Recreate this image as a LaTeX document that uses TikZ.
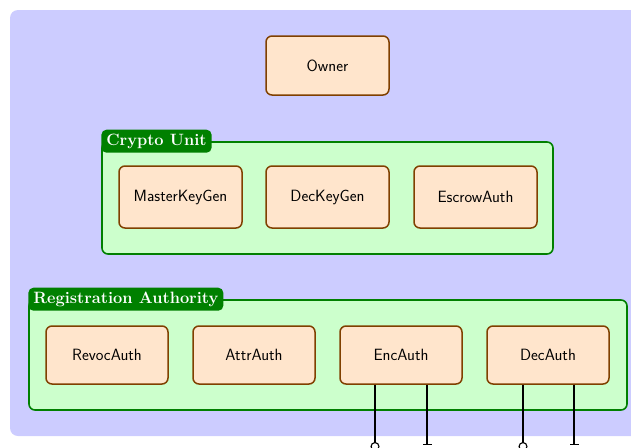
\documentclass[tikz,border=0pt]{standalone}
\usetikzlibrary{arrows.meta}
\definecolor{panelblue}{RGB}{204,204,255}
\definecolor{groupfill}{RGB}{204,255,204}
\definecolor{groupline}{RGB}{0,128,0}
\definecolor{boxfill}{RGB}{255,229,204}
\definecolor{boxline}{RGB}{128,64,0}
\tikzset{
  comp/.style={draw=boxline, fill=boxfill, line width=1.5pt, rounded corners=6pt,
    minimum width=122pt, minimum height=58pt, inner sep=0pt,
    font=\fontsize{16.3}{19}\selectfont\sffamily},
  grp/.style={draw=groupline, fill=groupfill, line width=1.6pt, rounded corners=6pt,
    inner sep=0pt},
  tab/.style={fill=groupline, text=white, rounded corners=5pt, anchor=west,
    inner xsep=5pt, inner ysep=0pt, minimum height=23pt,
    font=\fontsize{16.4}{19}\selectfont\bfseries},
  wire/.style={line width=1.1pt, draw=black},
  lolli/.style={wire, -{Circle[open, length=9pt, line width=1.1pt]}},
  barend/.style={wire, -{Bar[width=9pt, line width=1.1pt]}}
}
\begin{document}
\begin{tikzpicture}[x=1pt, y=-1pt]
  \useasboundingbox (0,0) rectangle (631,447);
  \clip (0,0) rectangle (631,447);
  % background panel
  \fill[panelblue, rounded corners=8pt] (10,10) rectangle (660,436);

  % owner
  \node[comp, minimum width=123pt, minimum height=59pt] (owner) at (327.5,65.5) {Owner};

  % crypto unit group
  \node[grp, minimum width=451pt, minimum height=112pt] (crypto) at (327.5,198) {};
  \node[tab] (cryptotab) at (crypto.north west) {Crypto Unit};
  \node[comp, minimum width=123pt, minimum height=62pt] (mkg) at (180.5,197) {MasterKeyGen};
  \node[comp, minimum width=123pt, minimum height=62pt] (dkg) at (327.5,197) {DecKeyGen};
  \node[comp, minimum width=123pt, minimum height=62pt] (esc) at (475.5,197) {EscrowAuth};

  % registration authority group
  \node[grp, minimum width=598pt, minimum height=110pt] (reg) at (328,355) {};
  \node[tab] (regtab) at (reg.north west) {Registration Authority};
  \node[comp] (revoc) at (107,355) {RevocAuth};
  \node[comp] (attr) at (254,355) {AttrAuth};
  \node[comp] (enc) at (401,355) {EncAuth};
  \node[comp] (dec) at (548,355) {DecAuth};

  % outgoing interface wires
  \coordinate (encA) at (375,451);
  \coordinate (encB) at (427,445);
  \coordinate (decA) at (523,451);
  \coordinate (decB) at (574,445);
  \draw[lolli] (enc.south -| encA) -- (encA);
  \draw[barend] (enc.south -| encB) -- (encB);
  \draw[lolli] (dec.south -| decA) -- (decA);
  \draw[barend] (dec.south -| decB) -- (decB);
\end{tikzpicture}
\end{document}
